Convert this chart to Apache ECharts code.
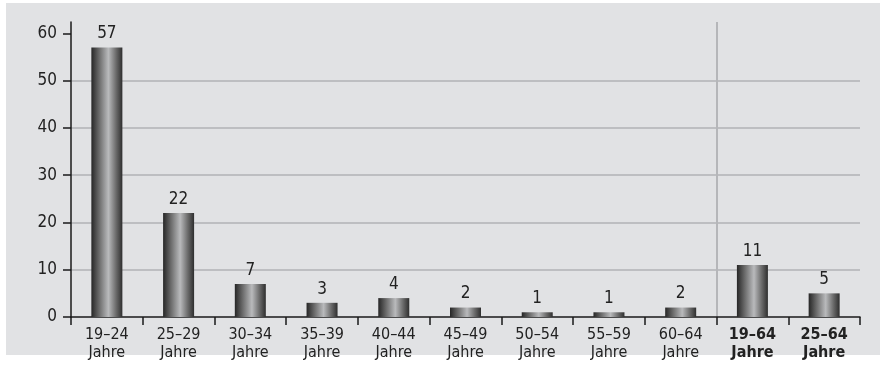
<!DOCTYPE html>
<html>
<head>
<meta charset="utf-8">
<script src="https://cdn.jsdelivr.net/npm/echarts@6/dist/echarts.min.js"></script>
<style>
  html, body { margin: 0; padding: 0; background: #ffffff; }
  #frame { position: absolute; left: 6px; top: 3px; width: 874px; height: 352px; background: #e1e2e4; }
  #chart { position: absolute; left: 0; top: 0; width: 881px; height: 365px; }
</style>
</head>
<body>
<div id="frame"></div>
<div id="chart"></div>
<script>
// Age groups (first line of each axis label) and the shared second line
const ageGroups = ['19–24', '25–29', '30–34', '35–39', '40–44', '45–49', '50–54', '55–59', '60–64', '19–64', '25–64'];
const unitLabel = 'Jahre';
// Share per age group
const values = [57, 22, 7, 3, 4, 2, 1, 1, 2, 11, 5];
// The last groups are totals, shown in bold behind a separator
const summaryStart = 9;
const yTicks = [0, 10, 20, 30, 40, 50, 60];

const FONT = '"Liberation Sans Narrow", "DejaVu Sans Condensed", "Arial Narrow", sans-serif';

const barGradient = {
  type: 'linear', x: 0, y: 0, x2: 1, y2: 0,
  colorStops: [
    { offset: 0, color: '#262626' },
    { offset: 0.25, color: '#6a6a6a' },
    { offset: 0.55, color: '#b9babc' },
    { offset: 0.8, color: '#6a6a6a' },
    { offset: 1, color: '#2e2e2e' }
  ]
};

const chart = echarts.init(document.getElementById('chart'), null, { renderer: 'canvas' });
chart.setOption({
  backgroundColor: 'transparent',
  animation: false,
  grid: { left: 71, right: 21, top: 22, bottom: 48, containLabel: false },
  xAxis: [{
    type: 'category',
    data: ageGroups,
    boundaryGap: true,
    axisLine: { lineStyle: { color: '#1a1a1a', width: 1.5 } },
    axisTick: { show: true, length: 8, lineStyle: { color: '#1a1a1a', width: 1.5 } },
    axisLabel: {
      interval: 0,
      margin: 9,
      color: '#222',
      fontFamily: FONT,
      fontSize: 16,
      lineHeight: 18,
      formatter: function (v, i) {
        return i >= summaryStart
          ? '{b|' + v + '}\n{b|' + unitLabel + '}'
          : '{n|' + v + '}\n{n|' + unitLabel + '}';
      },
      rich: {
        n: { fontFamily: FONT, fontSize: 16, lineHeight: 18, color: '#222' },
        b: { fontFamily: FONT, fontSize: 16, lineHeight: 18, color: '#222', fontWeight: 'bold' }
      }
    },
    splitLine: { show: false }
  }, {
    // Helper axis spanning the category slots; its only inner split line separates the totals
    type: 'value',
    position: 'bottom',
    min: 0,
    max: ageGroups.length,
    interval: summaryStart,
    axisLine: { show: false },
    axisTick: { show: false },
    axisLabel: { show: false },
    splitLine: { show: true, showMinLine: false, showMaxLine: false, lineStyle: { color: '#b5b6b9', width: 2 } }
  }],
  yAxis: {
    type: 'value',
    min: 0,
    max: 62.4,
    interval: 10,
    axisLine: { show: true, lineStyle: { color: '#1a1a1a', width: 1.5 } },
    axisTick: { show: true, length: 8, lineStyle: { color: '#1a1a1a', width: 1.5 }, customValues: yTicks },
    axisLabel: {
      margin: 14,
      color: '#222',
      fontFamily: FONT,
      fontSize: 17,
      customValues: yTicks
    },
    splitLine: { show: true, showMinLine: false, showMaxLine: false, lineStyle: { color: '#bdbec1', width: 2 } }
  },
  series: [{
    type: 'bar',
    xAxisIndex: 0,
    data: values,
    barWidth: 31,
    itemStyle: { color: barGradient },
    label: {
      show: true,
      position: 'top',
      distance: 5,
      color: '#222',
      fontFamily: FONT,
      fontSize: 17
    }
  }]
});
</script>
</body>
</html>
